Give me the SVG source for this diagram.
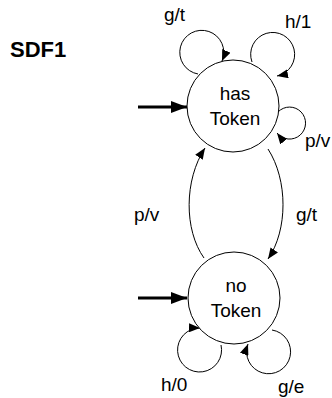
<svg xmlns="http://www.w3.org/2000/svg" width="332" height="398" viewBox="0 0 332 398">
<defs>
<marker id="ah" markerWidth="11" markerHeight="9" refX="11" refY="4.5" orient="auto" markerUnits="userSpaceOnUse">
<path d="M0,0 L11,4.5 L0,9 Z" fill="#000"/>
</marker>
<marker id="big" markerWidth="16" markerHeight="12" refX="16" refY="6" orient="auto" markerUnits="userSpaceOnUse">
<path d="M0,0 L16,6 L0,12 Z" fill="#000"/>
</marker>
</defs>
<style>
.st{fill:#fff;stroke:#000;stroke-width:1}
.e{fill:none;stroke:#000;stroke-width:1;marker-end:url(#ah)}
.init{fill:none;stroke:#000;stroke-width:3;marker-end:url(#big)}
text{font-family:"Liberation Sans",Arial,sans-serif;font-size:19px;fill:#000}
.c{text-anchor:middle}
.title{font-weight:bold;font-size:22px}
</style>
<rect width="332" height="398" fill="#fff"/>
<text class="title" x="10" y="57">SDF1</text>
<g id="connectors">
<path class="init" d="M138,107 L187,107"/>
<path class="init" d="M138,298 L187,298"/>
<path class="e" d="M198,74 A22,22 0 1 1 222,61"/>
<path class="e" d="M252,62 A22,22 0 1 1 277,76"/>
<path class="e" d="M278,112 A16,16 0 1 1 277,133"/>
<path class="e" d="M221,345 A22,22 0 1 1 200,328"/>
<path class="e" d="M272,330 A22,22 0 1 1 248,344"/>
<path class="e" d="M204,258 C184,230 184,180 205,148"/>
<path class="e" d="M268,149 C288,180 288,230 268,259"/>
</g>
<g id="hasToken">
<circle class="st" cx="233" cy="106" r="46"/>
<text class="c" x="235" y="100">has</text>
<text class="c" x="235" y="125">Token</text>
</g>
<g id="noToken">
<circle class="st" cx="234" cy="298" r="46"/>
<text class="c" x="236" y="292">no</text>
<text class="c" x="236" y="317">Token</text>
</g>
<g id="labels">
<text x="164" y="21">g/t</text>
<text x="285" y="28">h/1</text>
<text x="305" y="147">p/v</text>
<text x="134" y="221">p/v</text>
<text x="296" y="221">g/t</text>
<text x="161" y="391">h/0</text>
<text x="278" y="393">g/e</text>
</g>
</svg>
